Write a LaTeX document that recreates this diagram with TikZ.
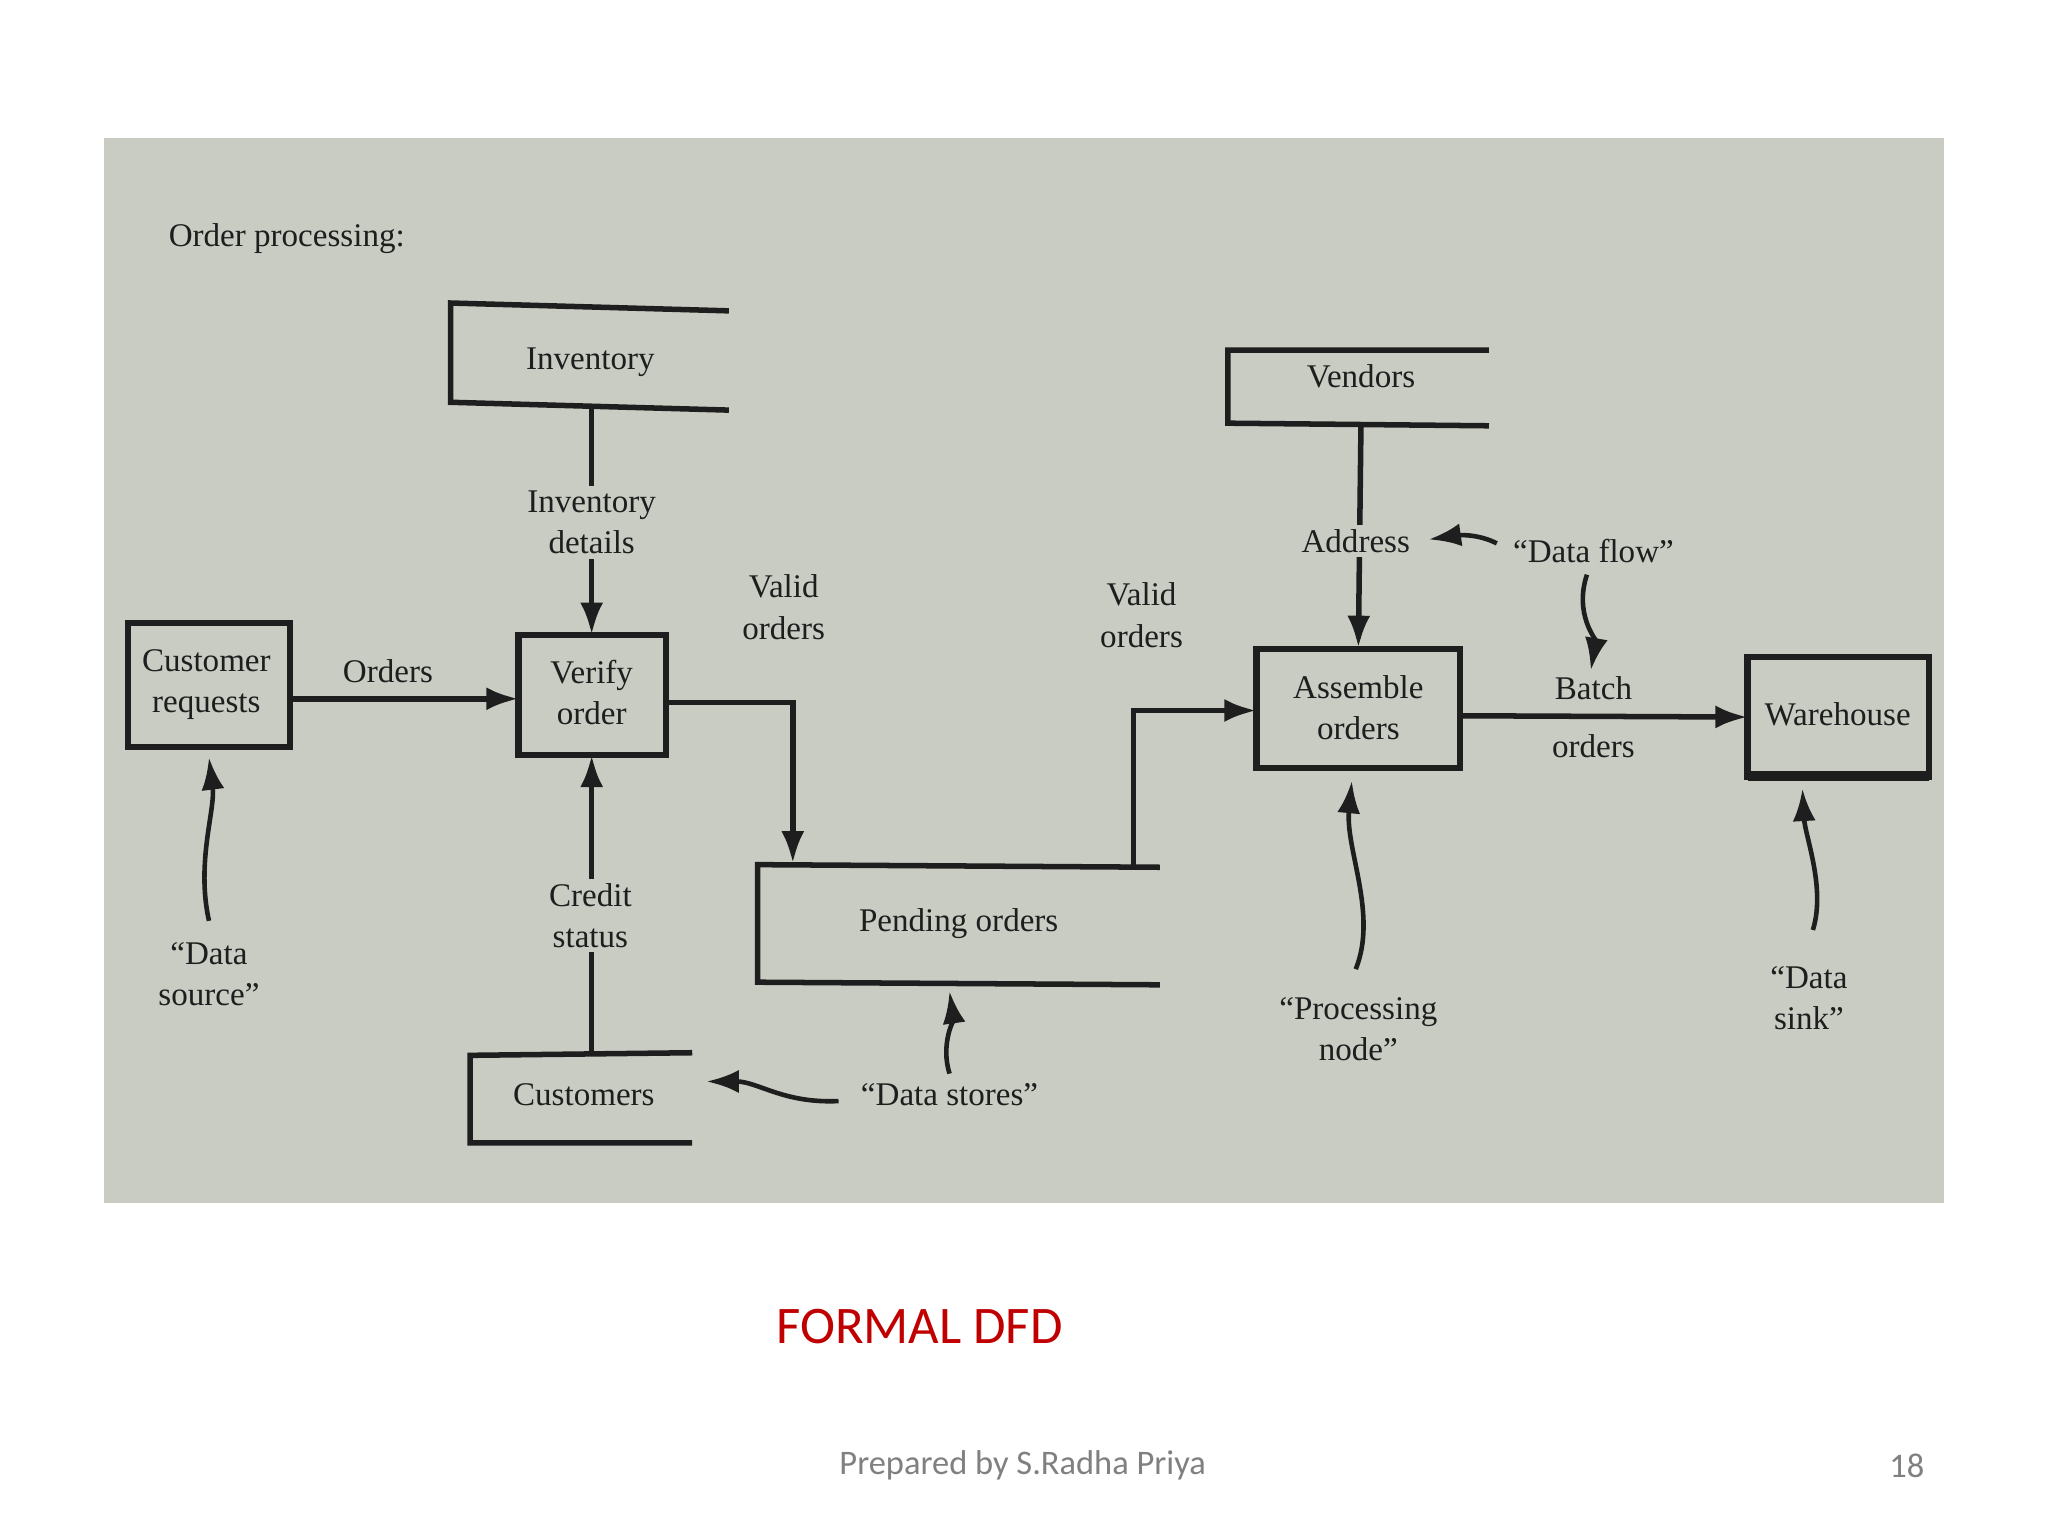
\documentclass[tikz,border=0pt]{standalone}
\usepackage{fontspec}
\setmainfont{Liberation Serif}
\newfontfamily\calib{Carlito}
\usetikzlibrary{arrows.meta}
\definecolor{paper}{RGB}{200,204,195}
\definecolor{ink}{RGB}{30,30,30}
\definecolor{dfdred}{RGB}{192,0,0}
\tikzset{
  ln/.style={draw=ink, line width=1.2pt},
  arr/.style={ln, -{Latex[length=7pt,width=5pt]}},
  txt/.style={text=ink, font=\fontsize{7.2}{9}\selectfont, align=center, inner sep=1pt},
  lbl/.style={txt, fill=paper},
  procbox/.style={ln, line width=1.4pt}
}
\begin{document}
\begin{tikzpicture}[x=0.01cm,y=-0.01cm]
\useasboundingbox (0,0) rectangle (1568,1176);
\fill[white] (0,0) rectangle (1568,1176);
\fill[paper] (80,106) rectangle (1488,921);
\node[txt,anchor=west] (title) at (125,183) {Order processing:};
% Inventory store
\draw[ln] (558,238) -- (345,232) -- (345,308) -- (558,314);
\node[txt] (inv) at (452,277) {Inventory};
\coordinate (invb) at (453,311);
% Customer requests
\draw[procbox] (98,477) rectangle (222,572);
\node[txt] (cr) at (158,524) {Customer\\requests};
% Verify order
\draw[procbox] (397,486) rectangle (510,578);
\node[txt] (vo) at (453,530) {Verify\\order};
\coordinate (vot) at (453,486);
\coordinate (vob) at (453,578);
% Pending orders
\draw[ln] (888,664) -- (580,662) -- (580,752) -- (888,754);
\node[txt] (po) at (734,707) {Pending orders};
% Customers
\draw[ln] (530,806) -- (360,808) -- (360,875) -- (530,875);
\node[txt] (cu) at (447,838) {Customers};
\coordinate (cut) at (453,808);
% Vendors
\draw[ln] (1140,268) -- (940,268) -- (940,324) -- (1140,326);
\node[txt] (ve) at (1042,288) {Vendors};
\coordinate (veb) at (1042,325);
% Assemble orders
\draw[procbox] (962,497) rectangle (1118,588);
\node[txt] (ao) at (1040,542) {Assemble\\orders};
% Warehouse
\draw[procbox] (1338,503) rectangle (1477,595);
\draw[ln, line width=2.2pt] (1338,594) -- (1477,594);
\node[txt] (wh) at (1407,547) {Warehouse};
% flows
\draw[arr] (invb) -- (vot);
\node[lbl] (invd) at (453,400) {Inventory\\details};
\draw[arr] (222,535) -- (397,535);
\node[txt] (ord) at (297,514) {Orders};
\coordinate (vor) at (510,538);
\draw[arr] (vor) -- (607,538) -- (607,661);
\node[txt] (val1) at (600,465) {Valid\\orders};
\draw[arr] (cut) -- (vob);
\node[lbl] (cs) at (452,701) {Credit\\status};
\draw[arr] (868,663) -- (868,544) -- (962,544);
\node[txt] (val2) at (874,471) {Valid\\orders};
\draw[arr] (veb) -- (1040,496);
\node[lbl] (addr) at (1038,414) {Address};
\draw[arr] (1118,548) -- (1338,549);
\node[txt] (batch) at (1220,527) {Batch};
\node[txt] (batch2) at (1220,571) {orders};
% annotations
\node[txt] (ds) at (160,746) {``Data\\source''};
\draw[arr, line width=1pt] (160,705) .. controls (150,660) and (165,620) .. (160,580);
\node[txt] (dst) at (727,838) {``Data stores''};
\draw[arr, line width=1pt] (642,843) .. controls (600,845) and (580,828) .. (541,828);
\draw[arr, line width=1pt] (727,822) .. controls (720,800) and (730,780) .. (727,759);
\node[txt] (df) at (1220,422) {``Data flow''};
\draw[arr, line width=1pt] (1146,416) .. controls (1130,408) and (1115,410) .. (1094,413);
\draw[arr, line width=1pt] (1215,440) .. controls (1205,470) and (1222,490) .. (1218,513);
\node[txt] (pn) at (1040,788) {``Processing\\node''};
\draw[arr, line width=1pt] (1038,742) .. controls (1055,700) and (1030,650) .. (1035,598);
\node[txt] (dsk) at (1385,764) {``Data\\sink''};
\draw[arr, line width=1pt] (1388,712) .. controls (1398,680) and (1382,640) .. (1380,604);
% slide texts
\node[text=dfdred, font=\calib\fontsize{11.5}{14}\selectfont] (fd) at (704,1016) {FORMAL DFD};
\node[text=gray, font=\calib\fontsize{7.5}{9}\selectfont] (prep) at (783,1122) {Prepared by S.Radha Priya};
\node[text=gray, font=\calib\fontsize{7.5}{9}\selectfont] (pg) at (1460,1122) {18};
\end{tikzpicture}
\end{document}
